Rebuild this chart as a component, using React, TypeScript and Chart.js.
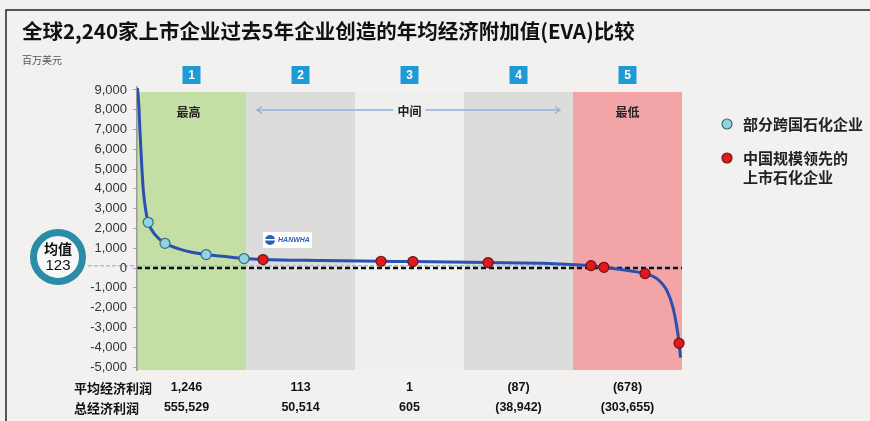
import React, { useEffect, useRef } from "react";
import { Chart, registerables } from "chart.js";

Chart.register(...registerables);

const TITLE = "全球2,240家上市企业过去5年企业创造的年均经济附加值(EVA)比较";
const UNIT = "百万美元";
const TOTAL_COMPANIES = 2240;
const BAND_EDGES = [0, 448, 896, 1344, 1792, 2240];
const BAND_NUMBERS = ["1", "2", "3", "4", "5"];
const BAND_COLORS = ["#c4dfa6", "#dcdcdb", "#efefee", "#dcdcdb", "#f2a4a6"];
const BAND_LABEL_HIGH = "最高";
const BAND_LABEL_MID = "中间";
const BAND_LABEL_LOW = "最低";
const Y_TICKS = [9000, 8000, 7000, 6000, 5000, 4000, 3000, 2000, 1000, 0, -1000, -2000, -3000, -4000, -5000];
const Y_MIN = -5150;
const Y_MAX = 9150;
const BAND_TOP_VALUE = 8900;

const CURVE_X = [2, 8, 12, 19, 26, 36, 46, 74, 115, 169, 225, 284, 362, 440, 518, 752, 1003, 1134, 1443, 1697, 1866, 1919, 2039, 2088, 2137, 2178, 2203, 2219, 2228, 2234];
const CURVE_Y = [9100, 8125, 6950, 5280, 3916, 2905, 2314, 1693, 1253, 985, 798, 682, 580, 480, 430, 380, 344, 330, 280, 230, 126, 40, -160, -280, -530, -1140, -2000, -3000, -3800, -4520];

const GLOBAL_X = [46, 115, 284, 440];
const GLOBAL_Y = [2314, 1253, 682, 480];
const CHINA_X = [518, 1003, 1134, 1443, 1866, 1919, 2088, 2228];
const CHINA_Y = [430, 344, 330, 280, 126, 40, -280, -3800];

const MEAN_VALUE = 123;
const MEAN_LABEL = "均值";

const TABLE_ROW_LABELS = ["平均经济利润", "总经济利润"];
const AVG_PROFIT = ["1,246", "113", "1", "(87)", "(678)"];
const TOTAL_PROFIT = ["555,529", "50,514", "605", "(38,942)", "(303,655)"];

const LEGEND_GLOBAL = ["部分跨国石化企业"];
const LEGEND_CHINA = ["中国规模领先的", "上市石化企业"];
const LOGO_TEXT = "HANWHA";

const CJK = "'Noto Sans CJK SC', 'Noto Sans', sans-serif";
const LAT = "'Liberation Sans', Arial, sans-serif";

const CYAN = "#8fd4e2";
const CYAN_BORDER = "#3a6f7c";
const RED = "#e3191c";
const RED_BORDER = "#6e1414";

const decorPlugin = {
  id: "decor",
  beforeDraw(chart: any) {
    const { ctx, chartArea, scales } = chart;
    const xs = scales.x;
    const ys = scales.y;
    ctx.save();
    ctx.fillStyle = "#f2f1ef";
    ctx.fillRect(0, 0, chart.width, chart.height);
    ctx.strokeStyle = "#222";
    ctx.lineWidth = 1.5;
    ctx.beginPath();
    ctx.moveTo(6, chart.height);
    ctx.lineTo(6, 10);
    ctx.lineTo(chart.width, 10);
    ctx.stroke();
    const bandTop = ys.getPixelForValue(BAND_TOP_VALUE);
    for (let i = 0; i < BAND_COLORS.length; i++) {
      const x0 = xs.getPixelForValue(BAND_EDGES[i]);
      const x1 = xs.getPixelForValue(BAND_EDGES[i + 1]);
      ctx.fillStyle = BAND_COLORS[i];
      ctx.fillRect(x0, bandTop, x1 - x0, chartArea.bottom - bandTop);
    }
    const my = ys.getPixelForValue(MEAN_VALUE);
    ctx.strokeStyle = "#98c6dc";
    ctx.lineWidth = 1.5;
    ctx.setLineDash([4, 2]);
    ctx.beginPath();
    ctx.moveTo(88, my);
    ctx.lineTo(chartArea.right, my);
    ctx.stroke();
    const zy = ys.getPixelForValue(0);
    ctx.strokeStyle = "#111";
    ctx.lineWidth = 2.5;
    ctx.setLineDash([5, 3]);
    ctx.beginPath();
    ctx.moveTo(chartArea.left, zy);
    ctx.lineTo(chartArea.right, zy);
    ctx.stroke();
    ctx.setLineDash([]);
    ctx.restore();
  },
  afterDraw(chart: any) {
    const { ctx, scales } = chart;
    const xs = scales.x;
    ctx.save();
    ctx.fillStyle = "#111";
    ctx.textAlign = "left";
    ctx.textBaseline = "middle";
    ctx.font = `bold 20.5px ${CJK}`;
    ctx.fillText(TITLE, 22, 31);
    ctx.fillStyle = "#555";
    ctx.font = `10px ${CJK}`;
    ctx.fillText(UNIT, 22, 60);

    const centers: number[] = [];
    for (let i = 0; i < BAND_NUMBERS.length; i++) {
      centers.push((xs.getPixelForValue(BAND_EDGES[i]) + xs.getPixelForValue(BAND_EDGES[i + 1])) / 2);
    }
    for (let i = 0; i < BAND_NUMBERS.length; i++) {
      const cx = centers[i];
      ctx.fillStyle = "#1e9bd7";
      ctx.fillRect(cx - 9, 66, 18, 18);
      ctx.fillStyle = "#fff";
      ctx.font = `bold 12px ${LAT}`;
      ctx.textAlign = "center";
      ctx.fillText(BAND_NUMBERS[i], cx, 75.5);
    }
    ctx.fillStyle = "#222";
    ctx.font = `bold 12px ${CJK}`;
    ctx.textAlign = "center";
    ctx.fillText(BAND_LABEL_HIGH, centers[0] - 3, 112);
    ctx.fillText(BAND_LABEL_LOW, centers[4], 112);
    ctx.fillText(BAND_LABEL_MID, centers[2], 111);
    const ay = 110;
    const aL = xs.getPixelForValue(BAND_EDGES[1]) + 11;
    const aR = xs.getPixelForValue(BAND_EDGES[4]) - 13;
    ctx.strokeStyle = "#8fb2df";
    ctx.lineWidth = 1.5;
    ctx.beginPath();
    ctx.moveTo(aL, ay);
    ctx.lineTo(centers[2] - 16, ay);
    ctx.moveTo(centers[2] + 16, ay);
    ctx.lineTo(aR, ay);
    ctx.moveTo(aL + 5, ay - 3.5);
    ctx.lineTo(aL, ay);
    ctx.lineTo(aL + 5, ay + 3.5);
    ctx.moveTo(aR - 5, ay - 3.5);
    ctx.lineTo(aR, ay);
    ctx.lineTo(aR - 5, ay + 3.5);
    ctx.stroke();

    const lx = xs.getPixelForValue(CHINA_X[0]);
    ctx.fillStyle = "#ffffff";
    ctx.fillRect(lx, 232, 49, 16);
    ctx.fillStyle = "#2b5fb3";
    ctx.beginPath();
    ctx.arc(lx + 7, 240, 5, 0, Math.PI * 2);
    ctx.fill();
    ctx.fillStyle = "#ffffff";
    ctx.fillRect(lx + 2, 239, 10, 1.5);
    ctx.fillStyle = "#2b5fb3";
    ctx.font = `italic bold 7px ${LAT}`;
    ctx.textAlign = "left";
    ctx.fillText(LOGO_TEXT, lx + 15, 240.5);

    const cx = 58;
    const cy = 257;
    ctx.beginPath();
    ctx.arc(cx, cy, 24.5, 0, Math.PI * 2);
    ctx.fillStyle = "#f8f8f8";
    ctx.fill();
    ctx.lineWidth = 7;
    ctx.strokeStyle = "#2a8ca6";
    ctx.stroke();
    ctx.fillStyle = "#111";
    ctx.textAlign = "center";
    ctx.font = `bold 14px ${CJK}`;
    ctx.fillText(MEAN_LABEL, cx, 249);
    ctx.font = `15px ${LAT}`;
    ctx.fillText(String(MEAN_VALUE), cx, 266);

    const drawMarker = (x: number, y: number, fill: string, border: string) => {
      ctx.beginPath();
      ctx.arc(x, y, 5, 0, Math.PI * 2);
      ctx.fillStyle = fill;
      ctx.fill();
      ctx.lineWidth = 1.2;
      ctx.strokeStyle = border;
      ctx.stroke();
    };
    drawMarker(727, 124, CYAN, CYAN_BORDER);
    drawMarker(727, 158, RED, RED_BORDER);
    ctx.fillStyle = "#222";
    ctx.textAlign = "left";
    ctx.font = `bold 15px ${CJK}`;
    LEGEND_GLOBAL.forEach((t, i) => ctx.fillText(t, 743, 124 + i * 19));
    LEGEND_CHINA.forEach((t, i) => ctx.fillText(t, 743, 158 + i * 19));

    ctx.fillStyle = "#111";
    ctx.font = `bold 13px ${CJK}`;
    ctx.textAlign = "left";
    ctx.fillText(TABLE_ROW_LABELS[0], 74, 388);
    ctx.fillText(TABLE_ROW_LABELS[1], 74, 408);
    ctx.font = `bold 12.5px ${LAT}`;
    ctx.textAlign = "center";
    for (let i = 0; i < AVG_PROFIT.length; i++) {
      const tx = i === 0 ? centers[i] - 5 : centers[i];
      ctx.fillText(AVG_PROFIT[i], tx, 388);
      ctx.fillText(TOTAL_PROFIT[i], tx, 408);
    }
    ctx.restore();
  },
};

export default function App() {
  const ref = useRef<HTMLCanvasElement | null>(null);
  useEffect(() => {
    document.body.style.margin = "0";
    document.body.style.background = "#f2f1ef";
    const canvas = ref.current;
    if (!canvas) return;
    const curve = CURVE_X.map((x, i) => ({ x, y: CURVE_Y[i] }));
    const globalPts = GLOBAL_X.map((x, i) => ({ x, y: GLOBAL_Y[i] }));
    const chinaPts = CHINA_X.map((x, i) => ({ x, y: CHINA_Y[i] }));
    const chart = new Chart(canvas, {
      type: "line",
      data: {
        datasets: [
          {
            label: LEGEND_GLOBAL.join(""),
            data: globalPts,
            showLine: false,
            pointRadius: 5,
            pointBackgroundColor: CYAN,
            pointBorderColor: CYAN_BORDER,
            pointBorderWidth: 1.2,
            order: 1,
            clip: 8,
          },
          {
            label: LEGEND_CHINA.join(""),
            data: chinaPts,
            showLine: false,
            pointRadius: 5,
            pointBackgroundColor: RED,
            pointBorderColor: RED_BORDER,
            pointBorderWidth: 1.2,
            order: 2,
            clip: 8,
          },
          {
            label: "EVA",
            data: curve,
            borderColor: "#2c50b2",
            borderWidth: 3,
            pointRadius: 0,
            cubicInterpolationMode: "monotone",
            fill: false,
            order: 3,
          },
        ],
      },
      options: {
        animation: false,
        responsive: false,
        devicePixelRatio: 1,
        layout: { padding: { left: 0, right: 188, top: 87, bottom: 51 } },
        plugins: { legend: { display: false }, tooltip: { enabled: false }, title: { display: false } },
        scales: {
          x: { type: "linear", min: 0, max: TOTAL_COMPANIES, display: false },
          y: {
            type: "linear",
            min: Y_MIN,
            max: Y_MAX,
            afterBuildTicks: (scale: any) => {
              scale.ticks = Y_TICKS.map((v) => ({ value: v }));
            },
            afterFit: (scale: any) => {
              scale.width = 137;
            },
            grid: { drawOnChartArea: false, drawTicks: true, tickLength: 4, color: "#a5a5a5" },
            border: { display: true, color: "#9a9a9a", width: 1.5 },
            ticks: {
              padding: 6,
              color: "#333",
              font: { family: "'Liberation Sans', Arial, sans-serif", size: 13 },
              callback: (v: any) => Number(v).toLocaleString("en-US"),
            },
          },
        },
      },
      plugins: [decorPlugin],
    });
    return () => chart.destroy();
  }, []);
  return <canvas ref={ref} width={870} height={421} style={{ display: "block", width: 870, height: 421 }} />;
}
